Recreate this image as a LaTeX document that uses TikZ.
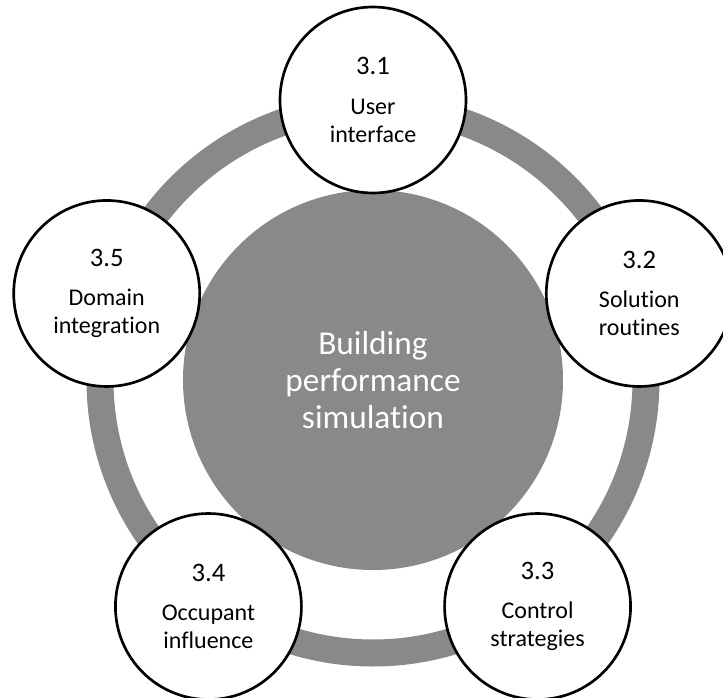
\documentclass[tikz,border=0pt]{standalone}
\usepackage{fontspec}
\setmainfont{Carlito}[Ligatures=NoCommon]
\usepackage{tikz}
\usetikzlibrary{positioning}
\definecolor{ringgray}{HTML}{898989}
\newcommand{\secno}[1]{{\fontsize{20}{24}\selectfont #1}}

\begin{document}
\begin{tikzpicture}[topic/.style={circle, draw, line width=2pt, fill=white, minimum size=139.5pt, inner sep=0pt, align=center, font=\fontsize{18}{21}\selectfont}, hub/.style={circle, fill=ringgray, minimum size=285pt, inner sep=0pt, align=center, text=white, font=\fontsize{25}{28}\selectfont}, node distance=210pt, on grid]
		\useasboundingbox (-279.75pt,-238.5pt) rectangle (262.5pt,285pt);
		\node[hub] (bps) at (0,0) {Building\\performance\\simulation};
		\draw[ringgray, line width=20.25pt] (bps.center) circle[radius=204.75pt];
		\node[topic] (t1) [above= of bps] {\secno{3.1}\\[8.5pt]User\\interface};
		\node[topic] (t2) [above right= 64.89pt and 199.72pt of bps] {\secno{3.2}\\[8.5pt]Solution\\routines};
		\node[topic] (t3) [below right= 169.89pt and 123.43pt of bps] {\secno{3.3}\\[8.5pt]Control\\strategies};
		\node[topic] (t4) [below left= 169.89pt and 123.43pt of bps] {\secno{3.4}\\[8.5pt]Occupant\\influence};
		\node[topic] (t5) [above left= 64.89pt and 199.72pt of bps] {\secno{3.5}\\[8.5pt]Domain\\integration};
	\end{tikzpicture}
\end{document}
